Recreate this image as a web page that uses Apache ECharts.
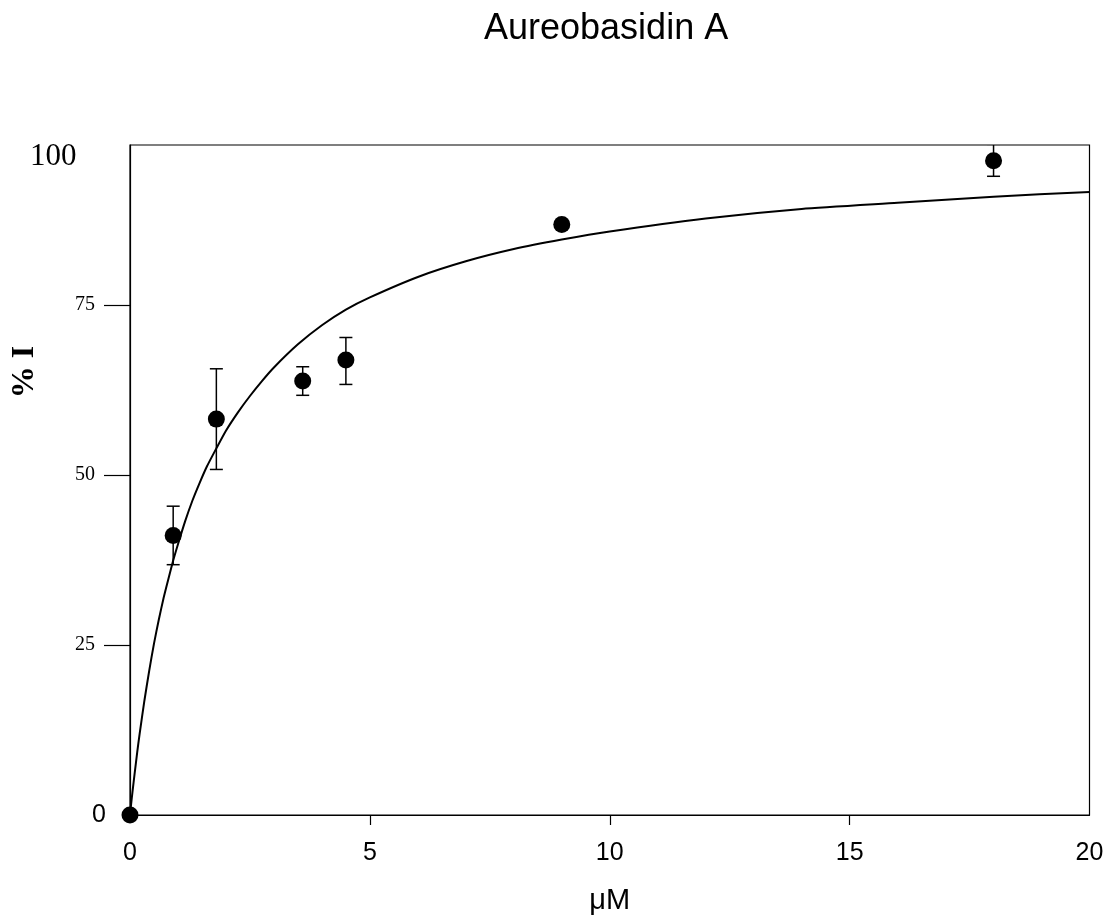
<!DOCTYPE html>
<html>
<head>
<meta charset="utf-8">
<script src="https://cdn.jsdelivr.net/npm/echarts@6/dist/echarts.min.js"></script>
<style>
  html, body { margin: 0; padding: 0; background: #fff; }
  #chart { width: 1111px; height: 920px; }
</style>
</head>
<body>
<div id="chart"></div>
<script>
// Measured inhibition (%) at each Aureobasidin A dose (µM), with error-bar ends
const doseUM        = [0, 0.9, 1.8, 3.6, 4.5, 9, 18];
const inhibitionPct = [0, 41.1, 58.2, 63.8, 66.9, 86.8, 96.2];
const errLow        = [0, 36.8, 50.8, 61.7, 63.3, 86.8, 93.9];
const errHigh       = [0, 45.4, 65.6, 65.9, 70.2, 86.8, 98.6];

// Fitted saturation curve, sampled along x
const curveX = [0, 0.025, 0.05, 0.1, 0.15, 0.2, 0.3, 0.4, 0.5, 0.6, 0.7, 0.8, 0.9, 1.0, 1.15, 1.3, 1.45, 1.6,
                1.8, 2.0, 2.25, 2.5, 2.75, 3.0, 3.5, 4.0, 4.5, 5.0, 6.0, 7.0, 8.0, 9.0, 10, 12, 14, 16, 18, 20];
const curveY = [0, 1.7, 3.3, 6.3, 9.2, 11.9, 16.8, 21.2, 25.2, 28.7, 31.9, 34.7, 37.4, 39.8, 43.2, 46.2, 48.8, 51.2,
                53.9, 56.5, 59.2, 61.6, 63.8, 65.8, 69.2, 72.0, 74.3, 76.1, 79.1, 81.4, 83.2, 84.6, 85.8, 87.7, 89.1, 90.0, 90.9, 91.6];

// Axis ticks and labels
const xLabelValues = [0, 5, 10, 15, 20];
const xTickValues  = [5, 10, 15];
const yLabelValues = [0, 25, 50, 75];
const yTickValues  = [25, 50, 75];

const SANS = '"Liberation Sans", Arial, sans-serif';
const SERIF = '"Liberation Serif", "Times New Roman", serif';

const points = doseUM.map((x, i) => [x, inhibitionPct[i]]);
const bars = doseUM.map((x, i) => [x, errLow[i], errHigh[i]]);
const curve = curveX.map((x, i) => [x, curveY[i]]);

const chart = echarts.init(document.getElementById('chart'), null, { renderer: 'canvas' });

chart.setOption({
  animation: false,
  backgroundColor: '#fff',
  title: {
    text: 'Aureobasidin A',
    left: 479,
    top: 6,
    textStyle: { fontFamily: SANS, fontSize: 36, fontWeight: 'normal', color: '#000' }
  },
  grid: {
    left: 130, right: 21.5, top: 145, bottom: 102.5,
    show: true, borderColor: '#000', borderWidth: 1.2, backgroundColor: 'transparent'
  },
  xAxis: {
    type: 'value', min: 0, max: 20,
    name: 'μM', nameLocation: 'middle', nameGap: 71,
    nameTextStyle: { fontFamily: SANS, fontSize: 29, color: '#000' },
    axisLine: { show: true, onZero: false, lineStyle: { color: '#000', width: 1.2 } },
    axisTick: { show: true, inside: false, length: 10, customValues: xTickValues, lineStyle: { color: '#000', width: 1.2 } },
    axisLabel: { customValues: xLabelValues, margin: 26, fontFamily: SANS, fontSize: 25, color: '#000' },
    splitLine: { show: false }
  },
  yAxis: {
    type: 'value', min: 0, max: 98.5,
    axisLine: { show: true, onZero: false, lineStyle: { color: '#000', width: 1.2 } },
    axisTick: { show: true, inside: false, length: 26, customValues: yTickValues, lineStyle: { color: '#000', width: 1.2 } },
    axisLabel: {
      customValues: yLabelValues,
      margin: 24,
      formatter: v => (v === 0 ? '{a|0}' : '{t|' + v + '}'),
      rich: {
        a: { fontFamily: SANS, fontSize: 25, color: '#000' },
        t: { fontFamily: SERIF, fontSize: 20, color: '#000', padding: [0, 11, 0, 0] }
      }
    },
    splitLine: { show: false }
  },
  graphic: [
    {
      type: 'text', x: 30, y: 157,
      style: { text: '100', font: '31px ' + SERIF, fill: '#000', textAlign: 'left', textVerticalAlign: 'middle' }
    },
    {
      type: 'text', x: 25, y: 372, rotation: Math.PI / 2,
      style: { text: '% I', font: 'bold 32px ' + SERIF, fill: '#000', textAlign: 'center', textVerticalAlign: 'middle' }
    }
  ],
  series: [
    {
      type: 'custom',
      clip: true,
      z: 2,
      data: bars,
      renderItem: (params, api) => {
        const x = api.value(0), lo = api.value(1), hi = api.value(2);
        if (hi - lo <= 0) return null;
        const pLo = api.coord([x, lo]);
        const pHi = api.coord([x, hi]);
        const cap = 6.5;
        const style = { stroke: '#000', lineWidth: 1.5 };
        return {
          type: 'group',
          children: [
            { type: 'line', shape: { x1: pLo[0], y1: pLo[1], x2: pHi[0], y2: pHi[1] }, style },
            { type: 'line', shape: { x1: pLo[0] - cap, y1: pLo[1], x2: pLo[0] + cap, y2: pLo[1] }, style },
            { type: 'line', shape: { x1: pHi[0] - cap, y1: pHi[1], x2: pHi[0] + cap, y2: pHi[1] }, style }
          ]
        };
      }
    },
    {
      type: 'scatter',
      clip: false,
      z: 3,
      symbol: 'circle',
      symbolSize: 17,
      itemStyle: { color: '#000', opacity: 1 },
      data: points
    },
    {
      type: 'line',
      z: 4,
      smooth: 0.2,
      showSymbol: false,
      lineStyle: { color: '#000', width: 2 },
      data: curve
    }
  ]
});
</script>
</body>
</html>
